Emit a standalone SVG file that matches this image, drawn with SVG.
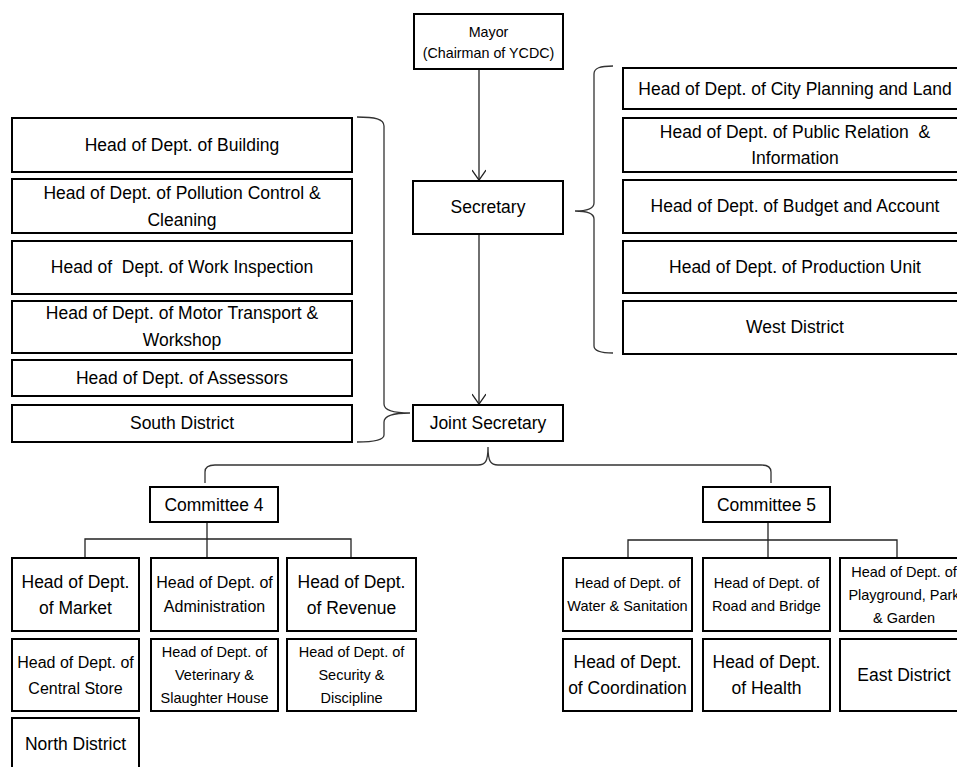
<svg xmlns="http://www.w3.org/2000/svg" width="957" height="767" viewBox="0 0 957 767">
<style>
.box{fill:#fff;stroke:#000;stroke-width:2}
.t{font-family:"Liberation Sans",Arial,sans-serif;fill:#000;text-anchor:middle;white-space:pre}
.s12{font-size:14.3px}
.s14{font-size:14.5px}
.s16{font-size:16px}
.s17{font-size:17.5px}
.ln{fill:none;stroke:#222;stroke-width:1.3}
.br{fill:none;stroke:#333;stroke-width:1.3}
</style>
<defs>
<marker id="arr" markerWidth="16" markerHeight="14" refX="11" refY="7" orient="auto" markerUnits="userSpaceOnUse">
<path d="M1,0 L11,7 L1,14" fill="none" stroke="#222" stroke-width="1.3"/>
</marker>
</defs>
<rect width="957" height="767" fill="#fff"/>

<g id="connectors">
<line class="ln" x1="479" y1="69" x2="479" y2="180" marker-end="url(#arr)"/>
<line class="ln" x1="479" y1="234" x2="479" y2="404" marker-end="url(#arr)"/>
<path class="br" d="M357,117 C375,117 384,119 384,126 L384,404 C384,410 392,413 410,413 C392,413 384,416 384,422 L384,435 C384,440 375,442 357,442"/>
<path class="br" d="M613,66 C600,66 594,68 594,74 L594,203 C594,208 588,211 575,211 C588,211 594,214 594,219 L594,346 C594,351 600,353 613,353"/>
<path class="br" d="M205,483 L205,472 C205,467 208,465 215,465 L478,465 C485,465 488,462 488,447 C488,462 491,465 498,465 L761,465 C768,465 771,467 771,472 L771,483"/>
<path class="ln" d="M207,522 L207,557 M85,557 L85,539 L351,539 L351,557"/>
<path class="ln" d="M768,522 L768,557 M628,557 L628,540 L897,540 L897,557"/>
</g>

<g id="mayor"><rect class="box" x="414" y="14" width="149" height="55"/>
<text class="t s12" x="488.5" y="37">Mayor</text><text class="t s12" x="488.5" y="58">(Chairman of YCDC)</text></g>
<g id="secretary"><rect class="box" x="413" y="181" width="150" height="53"/>
<text class="t s17" x="488" y="213">Secretary</text></g>
<g id="joint-secretary"><rect class="box" x="413" y="405" width="150" height="36"/>
<text class="t s17" x="488" y="429">Joint Secretary</text></g>

<g id="building"><rect class="box" x="12" y="118" width="340" height="54"/>
<text class="t s17" x="182" y="151">Head of Dept. of Building</text></g>
<g id="pollution"><rect class="box" x="12" y="179" width="340" height="54"/>
<text class="t s17" x="182" y="199">Head of Dept. of Pollution Control &amp;</text><text class="t s17" x="182" y="226">Cleaning</text></g>
<g id="work-inspection"><rect class="box" x="12" y="241" width="340" height="53"/>
<text class="t s17" x="182" y="273">Head of  Dept. of Work Inspection</text></g>
<g id="motor-transport"><rect class="box" x="12" y="301" width="340" height="52"/>
<text class="t s17" x="182" y="319">Head of Dept. of Motor Transport &amp;</text><text class="t s17" x="182" y="346">Workshop</text></g>
<g id="assessors"><rect class="box" x="12" y="360" width="340" height="36"/>
<text class="t s17" x="182" y="384">Head of Dept. of Assessors</text></g>
<g id="south-district"><rect class="box" x="12" y="405" width="340" height="37"/>
<text class="t s17" x="182" y="429">South District</text></g>

<g id="city-planning"><rect class="box" x="623" y="68" width="344" height="41"/>
<text class="t s17" x="795" y="95">Head of Dept. of City Planning and Land</text></g>
<g id="public-relation"><rect class="box" x="623" y="118" width="344" height="54"/>
<text class="t s17" x="795" y="138">Head of Dept. of Public Relation  &amp;</text><text class="t s17" x="795" y="164">Information</text></g>
<g id="budget"><rect class="box" x="623" y="180" width="344" height="53"/>
<text class="t s17" x="795" y="212">Head of Dept. of Budget and Account</text></g>
<g id="production"><rect class="box" x="623" y="241" width="344" height="52"/>
<text class="t s17" x="795" y="273">Head of Dept. of Production Unit</text></g>
<g id="west-district"><rect class="box" x="623" y="301" width="344" height="53"/>
<text class="t s17" x="795" y="333">West District</text></g>

<g id="committee4"><rect class="box" x="150" y="487" width="128" height="35"/>
<text class="t s17" x="214" y="511">Committee 4</text></g>
<g id="committee5"><rect class="box" x="703" y="487" width="127" height="35"/>
<text class="t s17" x="766.5" y="511">Committee 5</text></g>

<g id="market"><rect class="box" x="12" y="558" width="127" height="73"/>
<text class="t s17" x="75.5" y="588">Head of Dept.</text><text class="t s17" x="75.5" y="614">of Market</text></g>
<g id="administration"><rect class="box" x="151" y="558" width="127" height="73"/>
<text class="t s16" x="214.5" y="588">Head of Dept. of</text><text class="t s16" x="214.5" y="612">Administration</text></g>
<g id="revenue"><rect class="box" x="287" y="558" width="129" height="73"/>
<text class="t s17" x="351.5" y="588">Head of Dept.</text><text class="t s17" x="351.5" y="614">of Revenue</text></g>
<g id="central-store"><rect class="box" x="12" y="639" width="127" height="72"/>
<text class="t s16" x="75.5" y="668">Head of Dept. of</text><text class="t s16" x="75.5" y="694">Central Store</text></g>
<g id="veterinary"><rect class="box" x="151" y="639" width="127" height="72"/>
<text class="t s14" x="214.5" y="657">Head of Dept. of</text><text class="t s14" x="214.5" y="680">Veterinary &amp;</text><text class="t s14" x="214.5" y="703">Slaughter House</text></g>
<g id="security"><rect class="box" x="287" y="639" width="129" height="72"/>
<text class="t s14" x="351.5" y="657">Head of Dept. of</text><text class="t s14" x="351.5" y="680">Security &amp;</text><text class="t s14" x="351.5" y="703">Discipline</text></g>
<g id="north-district"><rect class="box" x="12" y="718" width="127" height="60"/>
<text class="t s17" x="75.5" y="750">North District</text></g>

<g id="water"><rect class="box" x="563" y="558" width="129" height="73"/>
<text class="t s14" x="627.5" y="588">Head of Dept. of</text><text class="t s14" x="627.5" y="611">Water &amp; Sanitation</text></g>
<g id="road"><rect class="box" x="703" y="558" width="127" height="73"/>
<text class="t s14" x="766.5" y="588">Head of Dept. of</text><text class="t s14" x="766.5" y="611">Road and Bridge</text></g>
<g id="playground"><rect class="box" x="840" y="558" width="128" height="73"/>
<text class="t s14" x="904" y="577">Head of Dept. of</text><text class="t s14" x="904" y="600">Playground, Park</text><text class="t s14" x="904" y="623">&amp; Garden</text></g>
<g id="coordination"><rect class="box" x="563" y="639" width="129" height="72"/>
<text class="t s17" x="627.5" y="668">Head of Dept.</text><text class="t s17" x="627.5" y="694">of Coordination</text></g>
<g id="health"><rect class="box" x="703" y="639" width="127" height="72"/>
<text class="t s17" x="766.5" y="668">Head of Dept.</text><text class="t s17" x="766.5" y="694">of Health</text></g>
<g id="east-district"><rect class="box" x="840" y="639" width="128" height="72"/>
<text class="t s17" x="904" y="681">East District</text></g>
</svg>
